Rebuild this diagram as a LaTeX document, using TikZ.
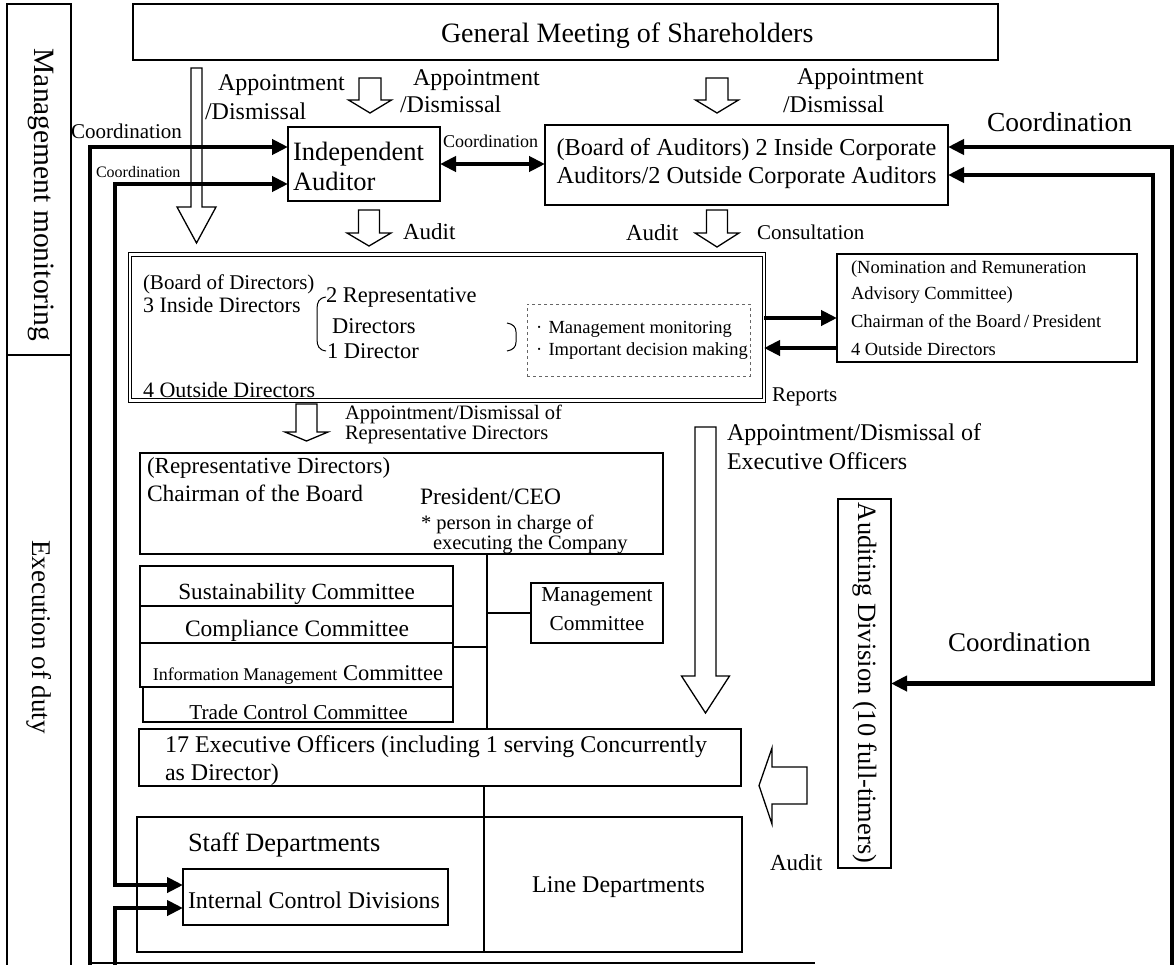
\documentclass[tikz,border=0pt]{standalone}
\usepackage{fontspec}
\setmainfont{Liberation Serif}
\usetikzlibrary{arrows.meta,calc}
\newcommand\FS[1]{\fontsize{#1}{#1}\selectfont}
\tikzset{
 bx/.style={draw=black, line width=1.3pt, inner sep=0pt, outer sep=0pt, anchor=north west},
 lbl/.style={inner sep=0pt, outer sep=0pt, anchor=base west},
 lblc/.style={inner sep=0pt, outer sep=0pt, anchor=base},
 hol/.style={draw=black, line width=1.3pt, fill=white, line join=miter},
 thk/.style={line width=4.2pt},
 ln/.style={line width=1.3pt},
 >={Triangle[length=16pt,width=15pt]}
}
\newcommand\T[5]{\node[lbl,font=\FS{#3}] (#4) at (#1,{#2+0.33*#3}) {#5};}
\newcommand\TC[5]{\node[lblc,font=\FS{#3}] (#4) at (#1,{#2+0.33*#3}) {#5};}
\newcommand\BX[5]{\node[bx, minimum width={(#3-#1)*1pt}, minimum height={(#4-#2)*1pt}] (#5) at (#1,#2) {};}
\newcommand\HD[6]{\draw[hol] ({#1-#5},#2) -- ({#1+#5},#2) -- ({#1+#5},#3) -- ({#1+#6},#3) -- (#1,#4) -- ({#1-#6},#3) -- ({#1-#5},#3) -- cycle;}
\begin{document}
\begin{tikzpicture}[x=1pt,y=-1pt]
\fill[white] (0,0) rectangle (1174,964);
\useasboundingbox (0,0) rectangle (1174,964);
% left column
\BX{7}{4}{71}{355}{mm}
\BX{7}{355}{71}{975}{ed}
\node[rotate=-90,font=\FS{29.5},inner sep=0pt] (mmt) at (41,195) {Management monitoring};
\node[rotate=-90,font=\FS{27},inner sep=0pt] (edt) at (39,637) {Execution of duty};
% GMS
\BX{133}{4}{998}{60}{gms}
\T{441}{33}{28}{gmst}{General Meeting of Shareholders}
% appointment labels
\T{218}{83}{24}{apl1}{Appointment}
\T{205}{112}{24}{apl2}{/Dismissal}
\T{413}{78}{24}{apm1}{Appointment}
\T{400}{105}{24}{apm2}{/Dismissal}
\T{797}{77}{24}{apr1}{Appointment}
\T{783}{105}{24}{apr2}{/Dismissal}
% hollow arrows
\HD{196.5}{68}{207}{243}{5.5}{19.5}
\HD{370}{78}{100}{113}{11}{21.5}
\HD{717}{78}{100}{113}{11}{21.5}
\HD{369}{210}{233}{246}{10.5}{22}
\HD{717}{210}{233}{247}{10.5}{22}
\HD{306.5}{404}{432}{441}{10.5}{21.5}
\HD{705.5}{427}{676}{713}{10.5}{24}
\draw[hol] (807,767) -- (772,767) -- (772,748) -- (759,785.5) -- (772,824) -- (772,804) -- (807,804) -- cycle;
% auditors
\BX{288}{127}{440}{201}{ia}
\T{293}{152}{26.5}{iat1}{Independent}
\T{293}{182}{26.5}{iat2}{Auditor}
\BX{545}{125}{948}{205}{boa}
\TC{746.5}{147}{24.3}{boat1}{(Board of Auditors) 2 Inside Corporate}
\TC{746.5}{175}{24.3}{boat2}{Auditors/2 Outside Corporate Auditors}
% coordination labels
\T{71}{132}{21}{co1}{Coordination}
\T{96}{172}{16}{co2}{Coordination}
\T{443}{142}{18}{co3}{Coordination}
\T{987}{122}{27.5}{co4}{Coordination}
\T{948}{643}{27}{co5}{Coordination}
% audit labels
\T{403}{232}{23}{au1}{Audit}
\T{626}{233}{23}{au2}{Audit}
\T{757}{233}{21}{cons}{Consultation}
% board of directors
\node[draw=black, line width=1.1pt, double, double distance=2.4pt, inner sep=0pt, outer sep=0pt, anchor=north west, minimum width=634pt, minimum height=146pt] (bod) at (130,254.5) {};
\T{143}{283}{21}{bd1}{(Board of Directors)}
\T{143}{305}{22}{bd2}{3 Inside Directors}
\T{143}{390}{22}{bd3}{4 Outside Directors}
\T{326}{295}{22.5}{bd4}{2 Representative}
\T{332}{326}{22.5}{bd5}{Directors}
\T{327}{351}{22.5}{bd6}{1 Director}
\draw[line width=1pt] (326,297) .. controls (319,298) and (317,302) .. (317,309) -- (317,339) .. controls (317,346) and (319,350) .. (326,351);
\draw[line width=1pt] (507,323) .. controls (513,324) and (516,327) .. (516,332) -- (516,342) .. controls (516,347) and (513,350) .. (507,351);
\node[bx, dashed, draw=black!60, line width=0.8pt, minimum width=223pt, minimum height=72pt] (dsh) at (527,304) {};
\T{530}{327}{18.5}{dm1}{\makebox[1em][c]{·}Management monitoring}
\T{530}{349}{18.5}{dm2}{\makebox[1em][c]{·}Important decision making}
% nomination
\BX{837}{254}{1137}{362}{nom}
\T{851}{267}{18.5}{nm1}{(Nomination and Remuneration}
\T{851}{293}{18.5}{nm2}{Advisory Committee)}
\T{851}{321}{18.5}{nm3}{Chairman of the Board\,/\,President}
\T{851}{349}{18.5}{nm4}{4 Outside Directors}
\coordinate (r1) at (800,318);
\coordinate (r2) at (800,348);
\draw[thk,->] (r1 -| bod.east) -- (r1 -| nom.west);
\draw[thk,->] (r2 -| nom.west) -- (r2 -| bod.east);
\T{772}{395}{21}{rep}{Reports}
% representative directors
\T{345}{413}{20.5}{ar1}{Appointment/Dismissal of}
\T{345}{433}{20.5}{ar2}{Representative Directors}
\BX{140}{453}{663}{554}{rdb}
\T{147}{466}{23}{rd1}{(Representative Directors)}
\T{147}{494}{23.5}{rd2}{Chairman of the Board}
\T{420}{497}{23.5}{rd3}{President/CEO}
\T{421}{523}{20.5}{rd4}{* person in charge of}
\T{433}{543}{20.5}{rd5}{executing the Company}
% committees
\BX{140}{566}{453}{606}{sus}
\BX{140}{606}{453}{643}{cmp}
\BX{140}{643}{453}{687}{inf}
\BX{143}{687}{453}{722}{trd}
\TC{296.5}{592}{23.2}{sust}{Sustainability Committee}
\TC{297}{629}{23.5}{cmpt}{Compliance Committee}
\TC{298}{673}{22.5}{inft}{{\FS{18}Information Management} Committee}
\TC{298.5}{712}{21.2}{trdt}{Trade Control Committee}
\BX{531}{583}{663}{643}{mgc}
\TC{597}{594}{21.3}{mg1}{Management}
\TC{597}{623}{21.3}{mg2}{Committee}
% executive officers
\BX{139}{729}{741}{786}{exe}
\T{165}{745}{24}{ex1}{17 Executive Officers (including 1 serving Concurrently}
\T{165}{773}{24}{ex2}{as Director)}
\coordinate (vx) at (487,600);
\coordinate (j1) at (487,647);
\draw[ln] (rdb.south -| vx) -- (vx |- exe.north);
\draw[ln] (j1 -| inf.east) -- (j1);
\draw[ln] (mgc.west -| vx) -- (mgc.west);
% departments
\BX{137}{817}{484}{952}{stf}
\BX{484}{817}{742}{952}{lin}
\draw[ln] (exe.south -| lin.north west) -- (lin.north west);
\T{188}{843}{26.4}{stt}{Staff Departments}
\BX{183}{869}{448}{925}{icd}
\T{188}{901}{24}{icdt}{Internal Control Divisions}
\TC{618.5}{885}{24}{lint}{Line Departments}
% auditing division
\BX{838}{499}{891}{868}{aud}
\node[rotate=-90, font=\FS{26.4}, inner sep=0pt] (audt) at (864.5,683) {Auditing Division (10 full-timers)};
\T{770}{863}{23}{aul}{Audit}
\T{727}{433}{24}{ae1}{Appointment/Dismissal of}
\T{727}{462}{24}{ae2}{Executive Officers}
% thick connectors
\coordinate (lo) at (90,975);
\coordinate (li) at (115,500);
\coordinate (lb) at (115,975);
\coordinate (ro) at (1172,975);
\coordinate (ri) at (1153,400);
\coordinate (ya) at (0,147);
\coordinate (yb) at (0,184);
\coordinate (yc) at (0,885);
\coordinate (yd) at (0,908);
\coordinate (ye) at (0,175);
\draw[thk,->] (lo) |- (ya -| ia.west);
\draw[thk,<->] (yb -| ia.west) -| (li) |- (yc -| icd.west);
\draw[thk,->] (lb) |- (yd -| icd.west);
\draw[thk,->] (ro) |- (ya -| boa.east);
\draw[thk,<->] (ye -| boa.east) -| (ri) |- (aud.east);
\draw[thk,<->] (ia.east) -- (ia.east -| boa.west);
\coordinate (bl) at (88,963);
\coordinate (br) at (815,963);
\draw[line width=2pt] (bl) -- (br);
\end{tikzpicture}
\end{document}
